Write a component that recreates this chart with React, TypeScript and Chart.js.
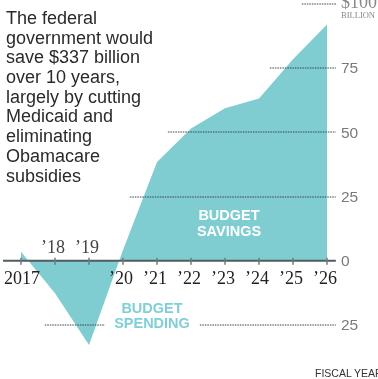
import React, { useEffect, useRef } from "react";
import { Chart, registerables } from "chart.js";

Chart.register(...registerables);

// ---- data ----
const yearLabels = ["2017", "’18", "’19", "’20", "’21", "’22", "’23", "’24", "’25", "’26"];
const savings = [3.5, -12.7, -32.8, 4.2, 38.4, 51.5, 59.4, 63.2, 78.4, 92];
const yTicks = [100, 75, 50, 25, 0, -25];
const yTickLabels = ["$100", "75", "50", "25", "0", "25"];
const titleLines = [
  "The federal",
  "government would",
  "save $337 billion",
  "over 10 years,",
  "largely by cutting",
  "Medicaid and",
  "eliminating",
  "Obamacare",
  "subsidies",
];

// grid line extents in category-index units (style config)
const gridSegments = [
  { v: 100, from: 8.26, to: 9.26 },
  { v: 75, from: 7.32, to: 9.26 },
  { v: 50, from: 4.32, to: 9.26 },
  { v: 25, from: 3.2, to: 9.26 },
  { v: -25, from: 0.7, to: 2.47 },
  { v: -25, from: 5.26, to: 9.26 },
];

const FILL = "#80cdd1";

const overlayPlugin = {
  id: "overlay",
  afterDatasetsDraw(chart: any) {
    const { ctx, scales } = chart;
    const x = scales.x;
    const y = scales.y;
    ctx.save();
    // dotted grid lines
    ctx.lineWidth = 2;
    ctx.setLineDash([1.5, 1]);
    ctx.strokeStyle = "rgba(55,65,70,0.5)";
    gridSegments.forEach((g) => {
      const py = Math.round(y.getPixelForValue(g.v));
      const x0 = x.getPixelForValue(0) + (x.getPixelForValue(1) - x.getPixelForValue(0)) * g.from;
      const x1 = x.getPixelForValue(0) + (x.getPixelForValue(1) - x.getPixelForValue(0)) * g.to;
      ctx.beginPath();
      ctx.moveTo(x0, py);
      ctx.lineTo(x1, py);
      ctx.stroke();
    });
    ctx.setLineDash([]);
    // zero axis
    const y0 = y.getPixelForValue(0);
    const step = x.getPixelForValue(1) - x.getPixelForValue(0);
    ctx.strokeStyle = "#505c60";
    ctx.lineWidth = 2;
    ctx.beginPath();
    ctx.moveTo(x.getPixelForValue(0) - step * 0.53, y0);
    ctx.lineTo(x.getPixelForValue(9) + step * 0.26, y0);
    ctx.stroke();
    // ticks
    ctx.strokeStyle = "#6f7a7c";
    ctx.lineWidth = 1.5;
    yearLabels.forEach((_, i) => {
      const px = x.getPixelForValue(i);
      ctx.beginPath();
      ctx.moveTo(px, y0 - 3);
      ctx.lineTo(px, y0 + 4);
      ctx.stroke();
    });
    ctx.restore();
  },
  afterDraw(chart: any) {
    const { ctx, scales } = chart;
    const x = scales.x;
    const y = scales.y;
    const y0 = y.getPixelForValue(0);
    ctx.save();
    // x labels
    ctx.font = '18px "Liberation Serif", serif';
    ctx.textBaseline = "alphabetic";
    ctx.textAlign = "right";
    yearLabels.forEach((lab, i) => {
      const px = x.getPixelForValue(i);
      const digits = lab.replace("’", "");
      const w = ctx.measureText(digits).width;
      const above = savings[i] < 0;
      ctx.fillStyle = above ? "#444" : "#222";
      ctx.fillText(lab, px + w / 2 + 1, above ? y0 - 8 : y0 + 23);
    });
    // y labels
    const lx = x.getPixelForValue(9) + 14;
    ctx.textAlign = "left";
    yTicks.forEach((v, i) => {
      const py = y.getPixelForValue(v);
      if (i === 0) {
        ctx.fillStyle = "#888";
        ctx.font = '18px "Liberation Serif", serif';
        ctx.textBaseline = "alphabetic";
        ctx.fillText(yTickLabels[i], lx, py + 4.5);
        ctx.font = '8.5px "Liberation Serif", serif';
        ctx.fillText("BILLION", lx, py + 14.5);
      } else {
        ctx.fillStyle = "#7a7a7a";
        ctx.font = '15.5px "Liberation Sans", sans-serif';
        ctx.textBaseline = "middle";
        ctx.fillText(yTickLabels[i], lx, py + 1);
      }
    });
    // annotations
    ctx.textAlign = "center";
    ctx.textBaseline = "middle";
    ctx.font = 'bold 14.5px "Liberation Sans", sans-serif';
    ctx.fillStyle = "#ffffff";
    const sx = (x.getPixelForValue(6) + x.getPixelForValue(7)) / 2 - 13;
    ctx.fillText("BUDGET", sx, y.getPixelForValue(17.5));
    ctx.fillText("SAVINGS", sx, y.getPixelForValue(11.3));
    ctx.fillStyle = "#7fd0d6";
    const px2 = (x.getPixelForValue(3) + x.getPixelForValue(4)) / 2 + 12;
    ctx.fillText("BUDGET", px2, y.getPixelForValue(-18.7));
    ctx.fillText("SPENDING", px2, y.getPixelForValue(-24.6));
    ctx.restore();
  },
};

export default function App() {
  const ref = useRef<HTMLCanvasElement | null>(null);
  useEffect(() => {
    if (!ref.current) return;
    const chart = new Chart(ref.current, {
      type: "line",
      data: {
        labels: yearLabels,
        datasets: [
          {
            data: savings,
            fill: "origin",
            backgroundColor: FILL,
            borderWidth: 0,
            borderColor: FILL,
            pointRadius: 0,
            tension: 0,
          },
        ],
      },
      options: {
        responsive: false,
        animation: false,
        layout: { padding: { left: 21, right: 51, top: 3.9, bottom: 2.7 } },
        plugins: { legend: { display: false }, tooltip: { enabled: false } },
        scales: {
          x: { type: "category", display: false, offset: false },
          y: { type: "linear", display: false, min: -45, max: 100 },
        },
      },
      plugins: [overlayPlugin],
    });
    return () => chart.destroy();
  }, []);

  return (
    <div style={{ position: "fixed", left: 0, top: 0, width: 378, height: 379, background: "#fff", overflow: "hidden" }}>
      <canvas ref={ref} width={378} height={379} style={{ position: "absolute", left: 0, top: 0 }} />
      <div
        style={{
          position: "absolute",
          left: 6,
          top: 8.9,
          font: '18px "Liberation Sans", Arial, sans-serif',
          lineHeight: "19.7px",
          color: "#2a2a2a",
          whiteSpace: "nowrap",
        }}
      >
        {titleLines.map((l, i) => (
          <div key={i}>{l}</div>
        ))}
      </div>
      <div
        style={{
          position: "absolute",
          left: 315,
          top: 367,
          font: '10.5px "Liberation Sans", Arial, sans-serif',
          color: "#333",
          whiteSpace: "nowrap",
        }}
      >
        FISCAL YEAR
      </div>
    </div>
  );
}
